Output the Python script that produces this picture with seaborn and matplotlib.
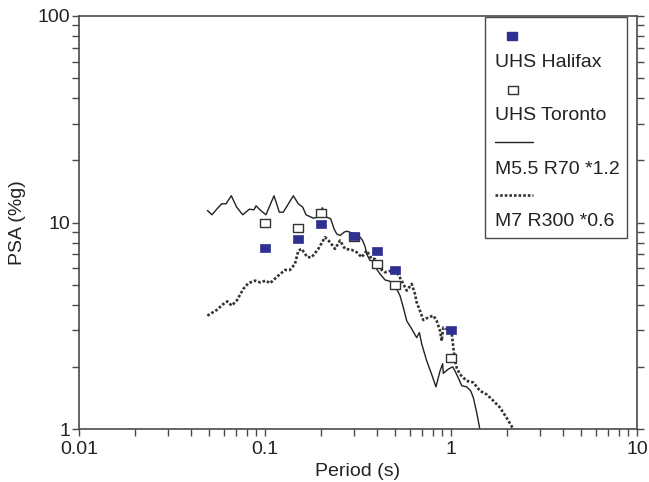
import matplotlib
matplotlib.use("Agg")
import matplotlib.pyplot as plt
from matplotlib.patches import Rectangle
from matplotlib.lines import Line2D
from matplotlib.ticker import FixedLocator, FixedFormatter, LogLocator, NullFormatter
import numpy as np
import pandas as pd
import seaborn as sns

# Uniform hazard spectra (period in s, PSA in %g)
uhs_period = [0.1, 0.15, 0.2, 0.3, 0.4, 0.5, 1.0]
uhs_halifax = [7.5, 8.3, 9.8, 8.6, 7.3, 5.9, 3.0]
uhs_toronto = [9.9, 9.45, 11.1, 8.5, 6.3, 5.0, 2.2]

# Scaled scenario record: M5.5 at 70 km, x1.2
m55_period = [0.049, 0.0519, 0.055, 0.0585, 0.0617, 0.0659, 0.0704, 0.0759, 0.0824, 0.0873,
              0.0895, 0.0948, 0.1012, 0.1118, 0.1194, 0.1254, 0.142, 0.1511, 0.1595, 0.1661,
              0.1819, 0.1935, 0.2033, 0.2146, 0.2256, 0.235, 0.2429, 0.2531, 0.266, 0.275,
              0.2926, 0.3112, 0.3243, 0.335, 0.346, 0.3521, 0.3669, 0.3823, 0.398, 0.415,
              0.442, 0.47, 0.5, 0.532, 0.554, 0.578, 0.615, 0.654, 0.676, 0.696,
              0.74, 0.787, 0.83, 0.873, 0.902, 0.909, 0.967, 1.021, 1.051, 1.094,
              1.142, 1.214, 1.276, 1.318, 1.375, 1.42, 1.468]
m55_psa = [11.43, 10.9, 11.6, 12.32, 12.32, 13.47, 11.87, 10.9, 11.6, 11.52,
           12.05, 11.43, 10.9, 13.47, 11.22, 11.22, 13.47, 12.32, 11.87, 10.9,
           10.49, 10.61, 11.79, 10.61, 10.42, 9.32, 8.81, 8.65, 8.97, 9.08,
           8.91, 8.74, 8.49, 8.18, 7.59, 7.05, 6.54, 6.54, 5.96, 5.64,
           5.27, 5.19, 4.94, 4.42, 3.88, 3.34, 3.05, 2.77, 2.93, 2.58,
           2.14, 1.84, 1.6, 1.91, 2.07, 1.86, 1.95, 2.0, 1.91, 1.77,
           1.62, 1.6, 1.53, 1.42, 1.2, 1.03, 0.87]

# Scaled scenario record: M7 at 300 km, x0.6
m7_period = [0.049, 0.055, 0.0597, 0.0627, 0.0662, 0.0704, 0.0765, 0.0813, 0.0884, 0.094,
             0.1012, 0.1064, 0.1179, 0.1281, 0.1362, 0.1449, 0.1511, 0.1575, 0.1641, 0.1688,
             0.1783, 0.1935, 0.2102, 0.224, 0.2379, 0.2531, 0.2692, 0.2926, 0.3112, 0.3311,
             0.3521, 0.3747, 0.39, 0.406, 0.442, 0.48, 0.511, 0.543, 0.578, 0.615,
             0.64, 0.654, 0.681, 0.71, 0.755, 0.804, 0.838, 0.873, 0.891, 0.909,
             0.948, 1.009, 1.029, 1.051, 1.073, 1.117, 1.214, 1.318, 1.432, 1.556,
             1.689, 1.834, 1.993, 2.163, 2.236]
m7_psa = [3.54, 3.77, 4.03, 4.15, 3.96, 4.18, 4.77, 5.08, 5.23, 5.13,
          5.23, 5.08, 5.53, 5.89, 5.89, 6.3, 7.31, 7.45, 7.05, 6.79,
          6.79, 7.45, 8.49, 8.02, 7.45, 8.18, 7.45, 7.37, 7.18, 6.79,
          7.31, 6.66, 6.66, 6.07, 5.74, 5.85, 5.74, 5.23, 4.68, 5.04,
          4.51, 4.1, 3.74, 3.37, 3.47, 3.54, 3.34, 2.99, 2.67, 3.1,
          3.05, 2.93, 2.48, 2.14, 1.98, 1.84, 1.71, 1.68, 1.53, 1.47,
          1.37, 1.27, 1.13, 1.0, 0.925]

legend_labels = ["UHS Halifax", "UHS Toronto", "M5.5 R70 *1.2", "M7 R300 *0.6"]
x_ticks = [0.01, 0.1, 1, 10]
x_ticklabels = ["0.01", "0.1", "1", "10"]
y_ticks = [1, 10, 100]
y_ticklabels = ["1", "10", "100"]

sns.set_theme(style="ticks")
plt.rcParams["font.family"] = ["Liberation Sans", "DejaVu Sans"]

INK = "#222222"
SPINE = "#4a4a4a"
BLUE = "#2e3192"
DOTS = (0, (1, 0.75))
rect_marker = [(-1, -0.7), (1, -0.7), (1, 0.7), (-1, 0.7), (-1, -0.7)]

fig = plt.figure(figsize=(6.49, 4.82), dpi=100)
ax = fig.add_axes([79 / 649, 1 - 429 / 482, 558 / 649, 413 / 482])

m55 = pd.DataFrame({"period": m55_period, "psa": m55_psa})
m7 = pd.DataFrame({"period": m7_period, "psa": m7_psa})
uhs = pd.DataFrame({"period": uhs_period, "halifax": uhs_halifax, "toronto": uhs_toronto})

sns.lineplot(data=m55, x="period", y="psa", sort=False, estimator=None, ax=ax,
             color=INK, linewidth=1.0)
sns.lineplot(data=m7, x="period", y="psa", sort=False, estimator=None, ax=ax,
             color="#333333", linewidth=1.9, linestyle=DOTS)
sns.scatterplot(data=uhs, x="period", y="toronto", ax=ax, marker=rect_marker, s=55,
                facecolor="white", edgecolor="#333333", linewidth=1.0, zorder=3)
sns.scatterplot(data=uhs, x="period", y="halifax", ax=ax, marker=rect_marker, s=55,
                color=BLUE, edgecolor=BLUE, linewidth=0.5, zorder=4)

ax.set_xscale("log")
ax.set_yscale("log")
ax.set_xlim(0.01, 10)
ax.set_ylim(1, 100)

ax.xaxis.set_major_locator(FixedLocator(x_ticks))
ax.xaxis.set_major_formatter(FixedFormatter(x_ticklabels))
ax.yaxis.set_major_locator(FixedLocator(y_ticks))
ax.yaxis.set_major_formatter(FixedFormatter(y_ticklabels))
ax.xaxis.set_minor_locator(LogLocator(base=10, subs=np.arange(2, 10)))
ax.yaxis.set_minor_locator(LogLocator(base=10, subs=np.arange(2, 10)))
ax.xaxis.set_minor_formatter(NullFormatter())
ax.yaxis.set_minor_formatter(NullFormatter())

ax.tick_params(axis="both", which="both", direction="out", color=SPINE, width=1.0,
               labelsize=14, labelcolor=INK, length=5)
ax.tick_params(axis="x", which="both", top=False, bottom=True, pad=3.5)
ax.tick_params(axis="y", which="both", left=True, right=True, pad=1.5)

for side in ["left", "right", "top", "bottom"]:
    ax.spines[side].set_visible(True)
    ax.spines[side].set_color(SPINE)
    ax.spines[side].set_linewidth(1.2)

ax.set_xlabel("Period (s)", fontsize=14, color=INK, labelpad=4)
ax.set_ylabel("PSA (%g)", fontsize=14, color=INK, labelpad=8)

# Legend box with each symbol above its label
ax.add_patch(Rectangle((0.7276, 0.4636), 0.982 - 0.7276, 0.998 - 0.4636,
                       transform=ax.transAxes, facecolor="white", edgecolor=SPINE,
                       linewidth=1.0, zorder=5))
ax.add_line(Line2D([0.776], [0.9515], transform=ax.transAxes, marker=rect_marker,
                   markersize=7.5, color=BLUE, markeredgecolor=BLUE, linestyle="none",
                   zorder=6))
ax.add_line(Line2D([0.778], [0.820], transform=ax.transAxes, marker=rect_marker,
                   markersize=7.5, markerfacecolor="white", markeredgecolor="#333333",
                   markeredgewidth=1.0, linestyle="none", zorder=6))
ax.add_line(Line2D([0.7455, 0.8136], [0.694, 0.694], transform=ax.transAxes,
                   color=INK, linewidth=1.0, zorder=6))
ax.add_line(Line2D([0.7455, 0.8136], [0.5655, 0.5655], transform=ax.transAxes,
                   color="#333333", linewidth=1.9, linestyle=DOTS, zorder=6))
for label, yy in zip(legend_labels, [0.888, 0.760, 0.629, 0.5024]):
    ax.text(0.7455, yy, label, transform=ax.transAxes, fontsize=14, color=INK,
            ha="left", va="center", zorder=6)

fig.savefig("out.png", dpi=100, facecolor="white")
